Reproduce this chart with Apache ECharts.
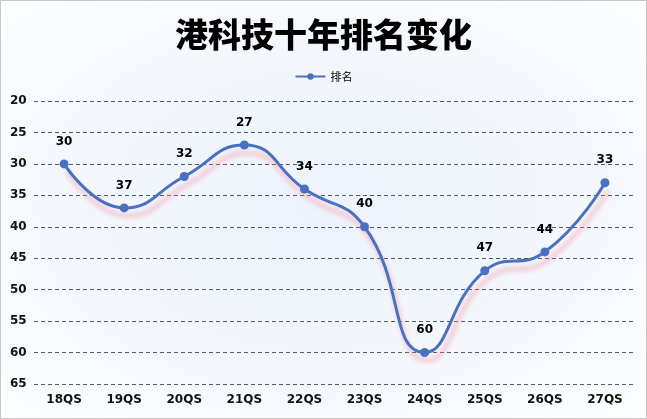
<!DOCTYPE html>
<html>
<head>
<meta charset="utf-8">
<script src="https://cdn.jsdelivr.net/npm/echarts@6/dist/echarts.min.js"></script>
<style>
html, body { margin: 0; padding: 0; }
#main { width: 645px; height: 417px; border: 1px solid #c8c8c8;
  background: radial-gradient(ellipse at center, #edf3fb 0%, #f4f8fd 60%, #fdfeff 100%); }
</style>
</head>
<body>
<div id="main"></div>
<script>
var categories = ['18QS', '19QS', '20QS', '21QS', '22QS', '23QS', '24QS', '25QS', '26QS', '27QS'];
var ranks = [30, 37, 32, 27, 34, 40, 60, 47, 44, 33];
var yTicks = [20, 65, 5]; // min, max, interval

var myChart = echarts.init(document.getElementById('main'));
var option = {
    title: {
        text: '港科技十年排名变化',
        left: 'center',
        top: 12,
        textStyle: {
            fontFamily: 'Noto Sans CJK SC',
            fontSize: 33,
            fontWeight: 900,
            color: '#000'
        }
    },
    legend: {
        top: 65,
        left: 'center',
        itemWidth: 30,
        itemHeight: 8,
        textStyle: { fontFamily: 'Noto Sans CJK SC', fontSize: 11, color: '#000' },
        data: ['排名']
    },
    grid: { left: 33, right: 11, top: 100, bottom: 34 },
    xAxis: {
        type: 'category',
        data: categories,
        axisLine: { show: false },
        axisTick: { show: false },
        axisLabel: {
            color: '#111',
            fontWeight: 'bold',
            fontSize: 12,
            fontFamily: 'DejaVu Sans',
            margin: 10
        }
    },
    yAxis: {
        type: 'value',
        inverse: true,
        min: yTicks[0],
        max: yTicks[1],
        interval: yTicks[2],
        axisLine: { show: false },
        axisTick: { show: false },
        axisLabel: {
            color: '#111',
            fontWeight: 'bold',
            fontSize: 12,
            fontFamily: 'DejaVu Sans',
            align: 'left',
            margin: 24
        },
        splitLine: { lineStyle: { type: [4, 3], color: '#4f5a6a', width: 1 } }
    },
    series: [{
        name: '排名',
        type: 'line',
        smooth: true,
        data: ranks,
        symbol: 'circle',
        symbolSize: 9,
        itemStyle: { color: '#4a70c2' },
        lineStyle: {
            color: '#4a70c2',
            width: 3,
            shadowColor: 'rgba(245, 150, 165, 0.7)',
            shadowBlur: 5,
            shadowOffsetX: 3,
            shadowOffsetY: 8
        },
        label: {
            show: true,
            position: 'top',
            distance: 12,
            color: '#000',
            fontWeight: 'bold',
            fontSize: 12,
            fontFamily: 'DejaVu Sans'
        }
    }]
};
myChart.setOption(option);
window.addEventListener('resize', function () {
    myChart.resize();
});
</script>
</body>
</html>
